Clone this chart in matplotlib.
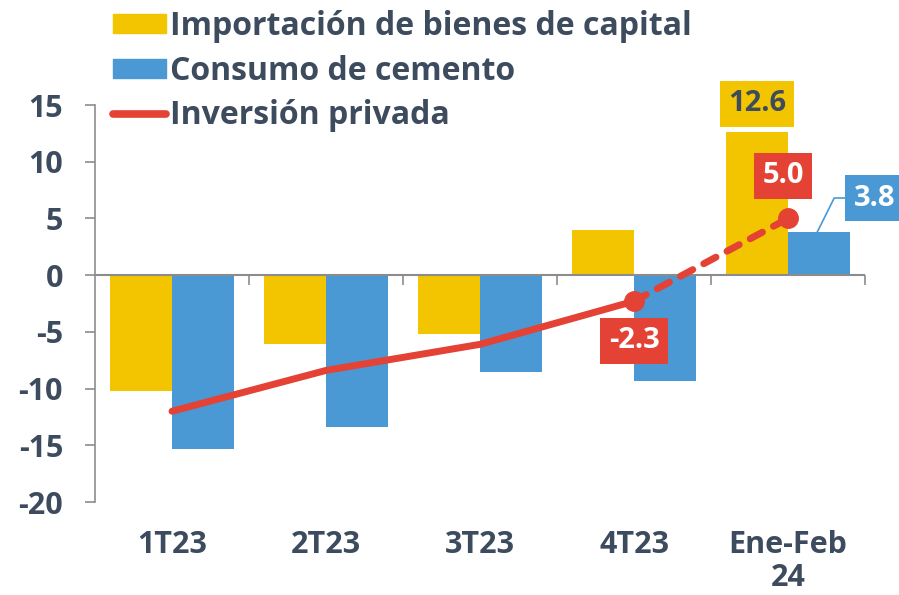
"""
Importación de bienes de capital, consumo de cemento e inversión privada
"""
import matplotlib
matplotlib.use("Agg")
import matplotlib.pyplot as plt
from matplotlib.patches import Patch
from matplotlib.lines import Line2D
import numpy as np

# data
categories = ["1T23", "2T23", "3T23", "4T23", "Ene-Feb\n24"]
importacion = [-10.2, -6.1, -5.2, 4.0, 12.6]
cemento = [-15.3, -13.4, -8.5, -9.3, 3.8]
inversion = [-12.0, -8.4, -6.1, -2.3, 5.0]

YELLOW = "#F2C500"
BLUE = "#4A98D4"
RED = "#E34234"
TEXT = "#3D4B5E"
GRAY = "#8C8C8C"

plt.rcParams['font.family'] = ['Open Sans', 'DejaVu Sans']
plt.rcParams['font.weight'] = 'bold'
plt.rcParams['axes.unicode_minus'] = False

fig = plt.figure(figsize=(8.99, 5.95), dpi=100)
ax = fig.add_axes([95 / 899, 93 / 595, 770 / 899, 397 / 595])

x = np.arange(len(categories))
w = 0.4
ax.bar(x - w / 2, importacion, w, color=YELLOW, zorder=2)
ax.bar(x + w / 2, cemento, w, color=BLUE, zorder=2)

# line: solid through 4T23, dashed to the last period
ax.plot(x[:4], inversion[:4], color=RED, lw=5, solid_capstyle='round', zorder=4)
ax.plot(x[3:], inversion[3:], color=RED, lw=5, dashes=(2.0, 1.8), dash_capstyle='round', zorder=4)
ax.plot(x[3:], inversion[3:], 'o', color=RED, ms=14, zorder=5)

ax.set_xlim(-0.5, len(categories) - 0.5)
ax.set_ylim(-20, 15)
ax.set_yticks(np.arange(-20, 16, 5))
ax.tick_params(axis='y', length=7, width=1.2, color=GRAY, labelsize=22, labelcolor=TEXT, pad=16)
ax.set_xticks(x)
ax.set_xticklabels(categories, linespacing=1.12)
ax.tick_params(axis='x', length=0, labelsize=22, labelcolor=TEXT, pad=20)
for lab in ax.get_xticklabels() + ax.get_yticklabels():
    lab.set_fontweight('bold')

for s in ['top', 'right', 'bottom']:
    ax.spines[s].set_visible(False)
ax.spines['left'].set_color(GRAY)
ax.spines['left'].set_linewidth(1.2)

# zero line with category separators
ax.axhline(0, color=GRAY, lw=1.5, zorder=3)
ax.vlines(x[:-1] + 0.5, -0.9, 0, color=GRAY, lw=1.2, zorder=3)
ax.vlines(x[-1] + 0.5, -0.9, 0, color=GRAY, lw=1.2, zorder=3, clip_on=False)

# value labels
box = 'square,pad=0.28'
ax.text(x[4] - w / 2, 15.1, "12.6", ha='center', va='center', fontsize=21, fontweight='bold',
        color=TEXT, bbox=dict(boxstyle=box, fc=YELLOW, ec='none'), clip_on=False, zorder=6)
ax.text(x[4] - 0.03, 8.75, "5.0", ha='center', va='center', fontsize=21, fontweight='bold',
        color='white', bbox=dict(boxstyle=box, fc=RED, ec='none'), zorder=6)
ax.text(x[3], -5.8, "-2.3", ha='center', va='center', fontsize=21, fontweight='bold',
        color='white', bbox=dict(boxstyle=box, fc=RED, ec='none'), zorder=6)
ax.plot([x[4] + 0.19, x[4] + 0.30, x[4] + 0.38], [cemento[4], 6.8, 6.8], color=BLUE, lw=1.2,
        clip_on=False, zorder=3)
ax.text(x[4] + 0.56, 6.8, "3.8", ha='center', va='center', fontsize=21, fontweight='bold',
        color='white', bbox=dict(boxstyle=box, fc=BLUE, ec='none'), clip_on=False, zorder=6)

handles = [Patch(color=YELLOW), Patch(color=BLUE),
           Line2D([], [], color=RED, lw=5.5, solid_capstyle='round')]
labels = ["Importación de bienes de capital", "Consumo de cemento", "Inversión privada"]
leg = fig.legend(handles, labels, loc='upper left', bbox_to_anchor=(113 / 899, 1 - 10 / 595),
                 frameon=False, fontsize=23, handlelength=1.65, handleheight=0.55,
                 handletextpad=0.15, labelspacing=0.36, borderpad=0, borderaxespad=0)
for t in leg.get_texts():
    t.set_color(TEXT)
    t.set_fontweight('bold')

fig.savefig("out.png", dpi=100)
